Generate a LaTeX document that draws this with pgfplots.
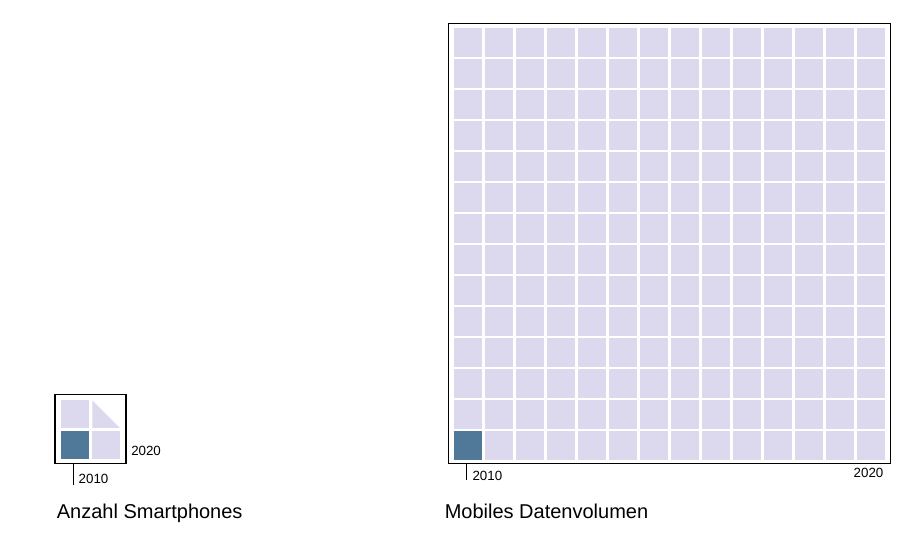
\documentclass[border=0pt]{standalone}
\usepackage{fontspec}
\setmainfont{Liberation Sans}
\usepackage{pgfplots}
\pgfplotsset{compat=1.18}

\definecolor{dunkel}{HTML}{4F7899}
\definecolor{hell}{HTML}{DCD9EF}

% 1px = 0.75pt, Bild 921x555 px
\pgfplotsset{
  zelle/.style={only marks, mark=square*, mark size=10.3pt,
    color=#1, mark options={fill=#1, draw=#1, line width=0pt}},
  kachel/.style={x=23.25pt, y=23.25pt, anchor=south west, clip=false,
    axis line style={line width=0.9pt, black},
    ytick=\empty, xtick={-0.05}, xticklabels={},
    xtick pos=left, tick align=outside,
    tick style={line width=0.75pt, black}}
}

\begin{document}
\begin{tikzpicture}
\path[use as bounding box] (0,0) rectangle (690.75pt,416.25pt);

%% Anzahl Smartphones
\begin{axis}[kachel, at={(41.25pt,68.5pt)},
  xmin=-0.645, xmax=1.645, ymin=-0.6, ymax=1.62,
  major tick length=16.3pt]
\addplot[zelle=dunkel] coordinates {(0,0)};
\addplot[zelle=hell] coordinates {(0,1) (1,0)};
\addplot[fill=hell, draw=none] coordinates {(0.557,1.443) (0.557,0.557) (1.443,0.557)} -- cycle;
\node[anchor=west, inner sep=0, font=\fontsize{10}{12}\selectfont, xshift=3.75pt, yshift=-11.5pt] at (axis cs:-0.05,-0.6) {2010};
\node[anchor=west, inner sep=0, font=\fontsize{10}{12}\selectfont, xshift=3.75pt, yshift=9.5pt] at (rel axis cs:1,0) {2020};
\node[anchor=base west, inner sep=0, font=\fontsize{15}{18}\selectfont, xshift=1.2pt, yshift=-41.5pt] at (rel axis cs:0,0) {Anzahl Smartphones};
\end{axis}

%% Mobiles Datenvolumen
\begin{axis}[kachel, at={(336.4pt,68.5pt)},
  xmin=-0.63, xmax=13.62, ymin=-0.59, ymax=13.62,
  major tick length=12.5pt]
\addplot[zelle=dunkel] coordinates {(0,0)};
\addplot[zelle=hell] coordinates {
(1,0) (2,0) (3,0) (4,0) (5,0) (6,0) (7,0) (8,0) (9,0) (10,0) (11,0) (12,0) (13,0)
(0,1) (1,1) (2,1) (3,1) (4,1) (5,1) (6,1) (7,1) (8,1) (9,1) (10,1) (11,1) (12,1) (13,1)
(0,2) (1,2) (2,2) (3,2) (4,2) (5,2) (6,2) (7,2) (8,2) (9,2) (10,2) (11,2) (12,2) (13,2)
(0,3) (1,3) (2,3) (3,3) (4,3) (5,3) (6,3) (7,3) (8,3) (9,3) (10,3) (11,3) (12,3) (13,3)
(0,4) (1,4) (2,4) (3,4) (4,4) (5,4) (6,4) (7,4) (8,4) (9,4) (10,4) (11,4) (12,4) (13,4)
(0,5) (1,5) (2,5) (3,5) (4,5) (5,5) (6,5) (7,5) (8,5) (9,5) (10,5) (11,5) (12,5) (13,5)
(0,6) (1,6) (2,6) (3,6) (4,6) (5,6) (6,6) (7,6) (8,6) (9,6) (10,6) (11,6) (12,6) (13,6)
(0,7) (1,7) (2,7) (3,7) (4,7) (5,7) (6,7) (7,7) (8,7) (9,7) (10,7) (11,7) (12,7) (13,7)
(0,8) (1,8) (2,8) (3,8) (4,8) (5,8) (6,8) (7,8) (8,8) (9,8) (10,8) (11,8) (12,8) (13,8)
(0,9) (1,9) (2,9) (3,9) (4,9) (5,9) (6,9) (7,9) (8,9) (9,9) (10,9) (11,9) (12,9) (13,9)
(0,10) (1,10) (2,10) (3,10) (4,10) (5,10) (6,10) (7,10) (8,10) (9,10) (10,10) (11,10) (12,10) (13,10)
(0,11) (1,11) (2,11) (3,11) (4,11) (5,11) (6,11) (7,11) (8,11) (9,11) (10,11) (11,11) (12,11) (13,11)
(0,12) (1,12) (2,12) (3,12) (4,12) (5,12) (6,12) (7,12) (8,12) (9,12) (10,12) (11,12) (12,12) (13,12)
(0,13) (1,13) (2,13) (3,13) (4,13) (5,13) (6,13) (7,13) (8,13) (9,13) (10,13) (11,13) (12,13) (13,13)
};
\node[anchor=west, inner sep=0, font=\fontsize{10}{12}\selectfont, xshift=4.3pt, yshift=-9.2pt] at (axis cs:-0.05,-0.59) {2010};
\node[anchor=east, inner sep=0, font=\fontsize{10}{12}\selectfont, xshift=-5pt, yshift=-7.2pt] at (rel axis cs:1,0) {2020};
\node[anchor=base west, inner sep=0, font=\fontsize{15}{18}\selectfont, xshift=-3pt, yshift=-41.5pt] at (rel axis cs:0,0) {Mobiles Datenvolumen};
\end{axis}
\end{tikzpicture}
\end{document}
